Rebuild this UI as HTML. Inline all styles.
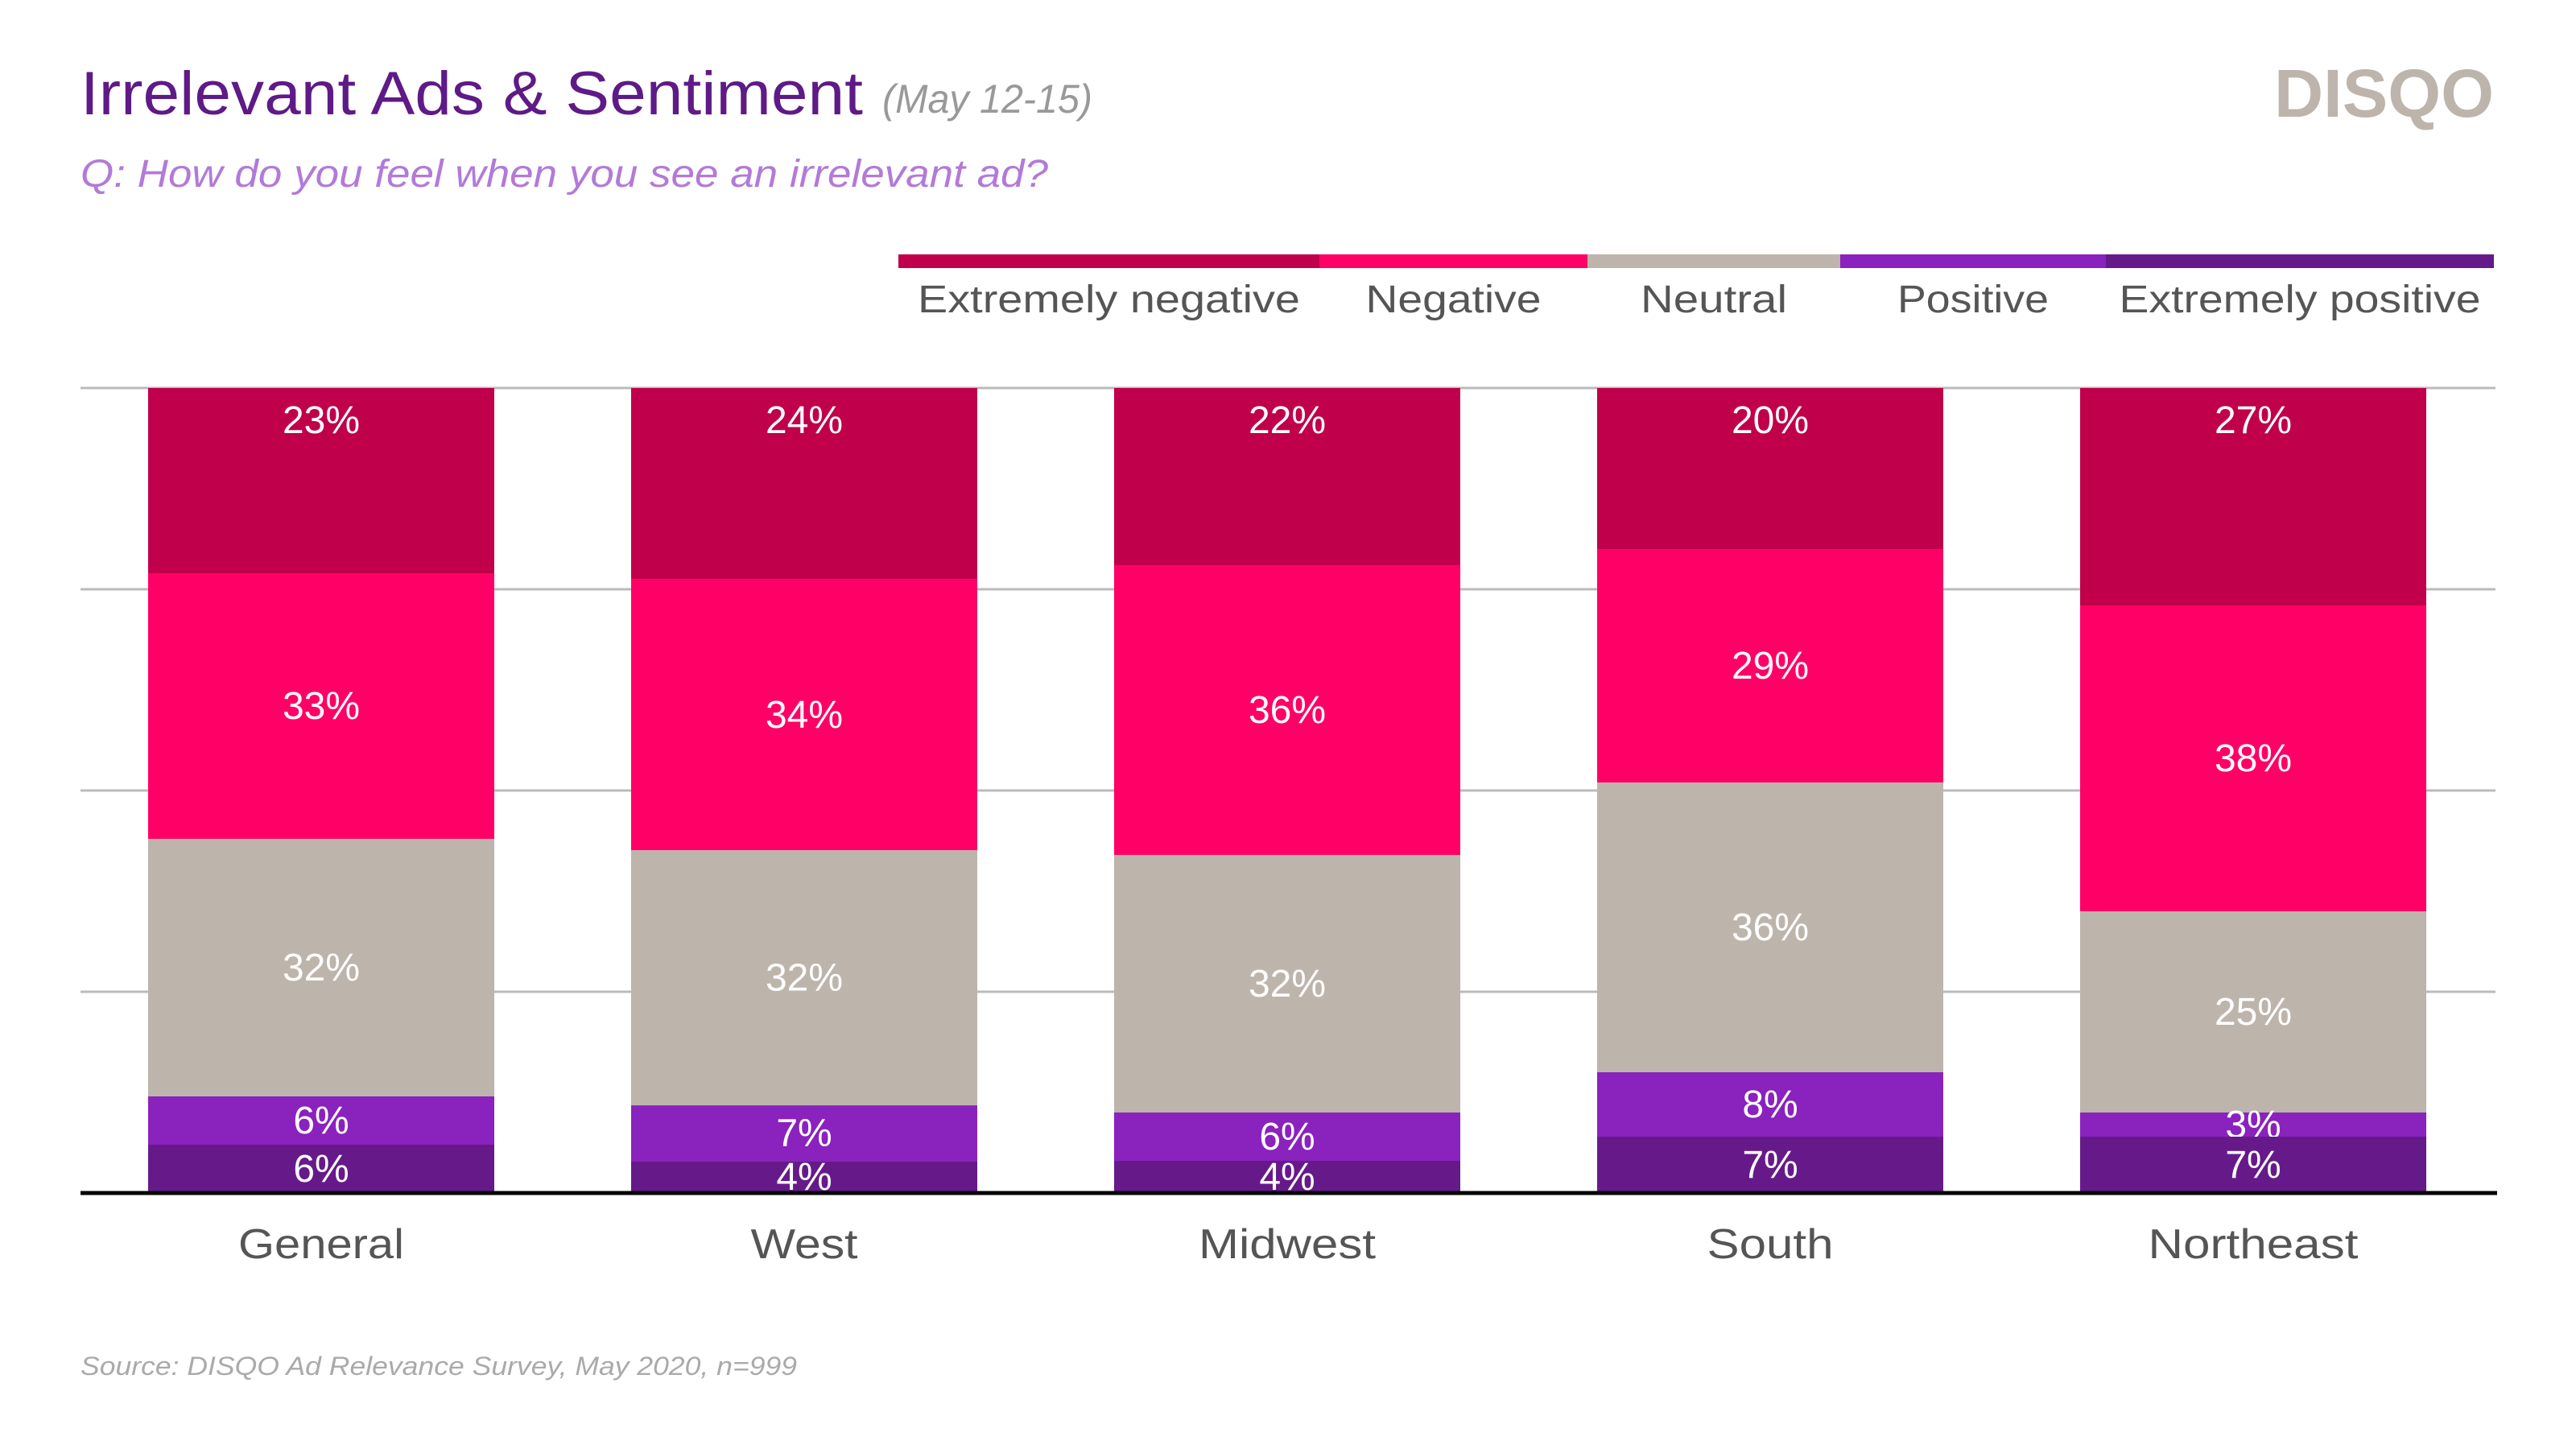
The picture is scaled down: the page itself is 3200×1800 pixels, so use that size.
<!DOCTYPE html>
<html><head><meta charset="utf-8">
<style>
html,body{margin:0;padding:0;background:#fff;}
svg{display:block;font-family:"Liberation Sans",sans-serif;}
</style></head>
<body>
<svg id="chart" width="3200" height="1800" viewBox="0 0 3200 1800">
  <text x="100" y="142" font-size="76" fill="#5e1a86" textLength="972" lengthAdjust="spacingAndGlyphs">Irrelevant Ads &amp; Sentiment</text>
  <text x="1096" y="140" font-size="50" font-style="italic" fill="#999" textLength="261" lengthAdjust="spacingAndGlyphs">(May 12-15)</text>
  <text x="100" y="232" font-size="48" fill="#b27ad8" font-style="italic" textLength="1202" lengthAdjust="spacingAndGlyphs">Q: How do you feel when you see an irrelevant ad?</text>
  <text x="2825" y="145" font-size="84" font-weight="bold" fill="#bdb4ab" textLength="273" lengthAdjust="spacingAndGlyphs">DISQO</text>
  <g id="legend"></g>
  <g id="grid"></g>
  <g id="bars"></g>
  <line x1="100" y1="1482" x2="3102" y2="1482" stroke="#000" stroke-width="5"/>
  <g id="xlabels"></g>
  <text x="100" y="1708" font-size="32" font-style="italic" fill="#aaa" textLength="890" lengthAdjust="spacingAndGlyphs">Source: DISQO Ad Relevance Survey, May 2020, n=999</text>
</svg>
<script>
const categories = ["General","West","Midwest","South","Northeast"];
const seriesNames = ["Extremely negative","Negative","Neutral","Positive","Extremely positive"];
const extremelyNegative = [23,24,22,20,27];
const negative = [33,34,36,29,38];
const neutral = [32,32,32,36,25];
const positive = [6,7,6,8,3];
const extremelyPositive = [6,4,4,7,7];
const series = [extremelyNegative, negative, neutral, positive, extremelyPositive];
const colors = ["#c0004a","#ff0066","#bdb4ab","#8a22bd","#661a8a"];
const legendWidths = [475,218,182,188,449];
const catWidths = [206,133,220,157,261];
const NS = "http://www.w3.org/2000/svg";
const plotTop = 482, plotBottom = 1482, plotLeft = 100, plotRight = 3100;
const step = 600, barW = 430, firstCenter = 399;
function xCenter(i){ return firstCenter + i*step; }
function yScale(f){ return plotTop + f*(plotBottom-plotTop); }
function mk(tag, attrs, parent){ const e=document.createElementNS(NS,tag); for(const k in attrs) e.setAttribute(k,attrs[k]); parent.appendChild(e); return e; }

const grid = document.getElementById('grid');
[0,0.25,0.5,0.75].forEach(f=>{
  const l = mk('line',{x1:plotLeft,x2:plotRight,y1:yScale(f),y2:yScale(f),stroke:'#bbb','stroke-width':3},grid);
  
  
});

const legend = document.getElementById('legend');
const legendEdges = [1116,1639,1972,2286,2616,3098];
seriesNames.forEach((n,i)=>{
  const r = mk('rect',{x:legendEdges[i],y:316,width:legendEdges[i+1]-legendEdges[i],height:17,fill:colors[i]},legend);
  
  
  const t = mk('text',{x:(legendEdges[i]+legendEdges[i+1])/2,y:388,'font-size':48,fill:'#555','text-anchor':'middle',textLength:legendWidths[i],lengthAdjust:'spacingAndGlyphs'},legend);
  t.textContent = n;
  
  
});

const bars = document.getElementById('bars');
categories.forEach((c,i)=>{
  let total = 0; series.forEach(s=>total+=s[i]);
  let cum = 0;
  series.forEach((s,j)=>{
    const y0 = yScale(cum/total), y1 = yScale((cum+s[i])/total);
    cum += s[i];
    const r = mk('rect',{x:xCenter(i)-barW/2,y:y0,width:barW,height:y1-y0,fill:colors[j]},bars);
    
    
    let ly = (y0+y1)/2 + 16;
    if (j===0) ly = y0 + 56;
    const t = mk('text',{x:xCenter(i),y:ly,'font-size':48,fill:'#fff','text-anchor':'middle'},bars);
    t.textContent = s[i]+'%';
    
    
  });
  const xl = mk('text',{x:xCenter(i),y:1563,'font-size':52,fill:'#555','text-anchor':'middle',textLength:catWidths[i],lengthAdjust:'spacingAndGlyphs'},document.getElementById('xlabels'));
  xl.textContent = c;
  
  
});
</script>
</body></html>
